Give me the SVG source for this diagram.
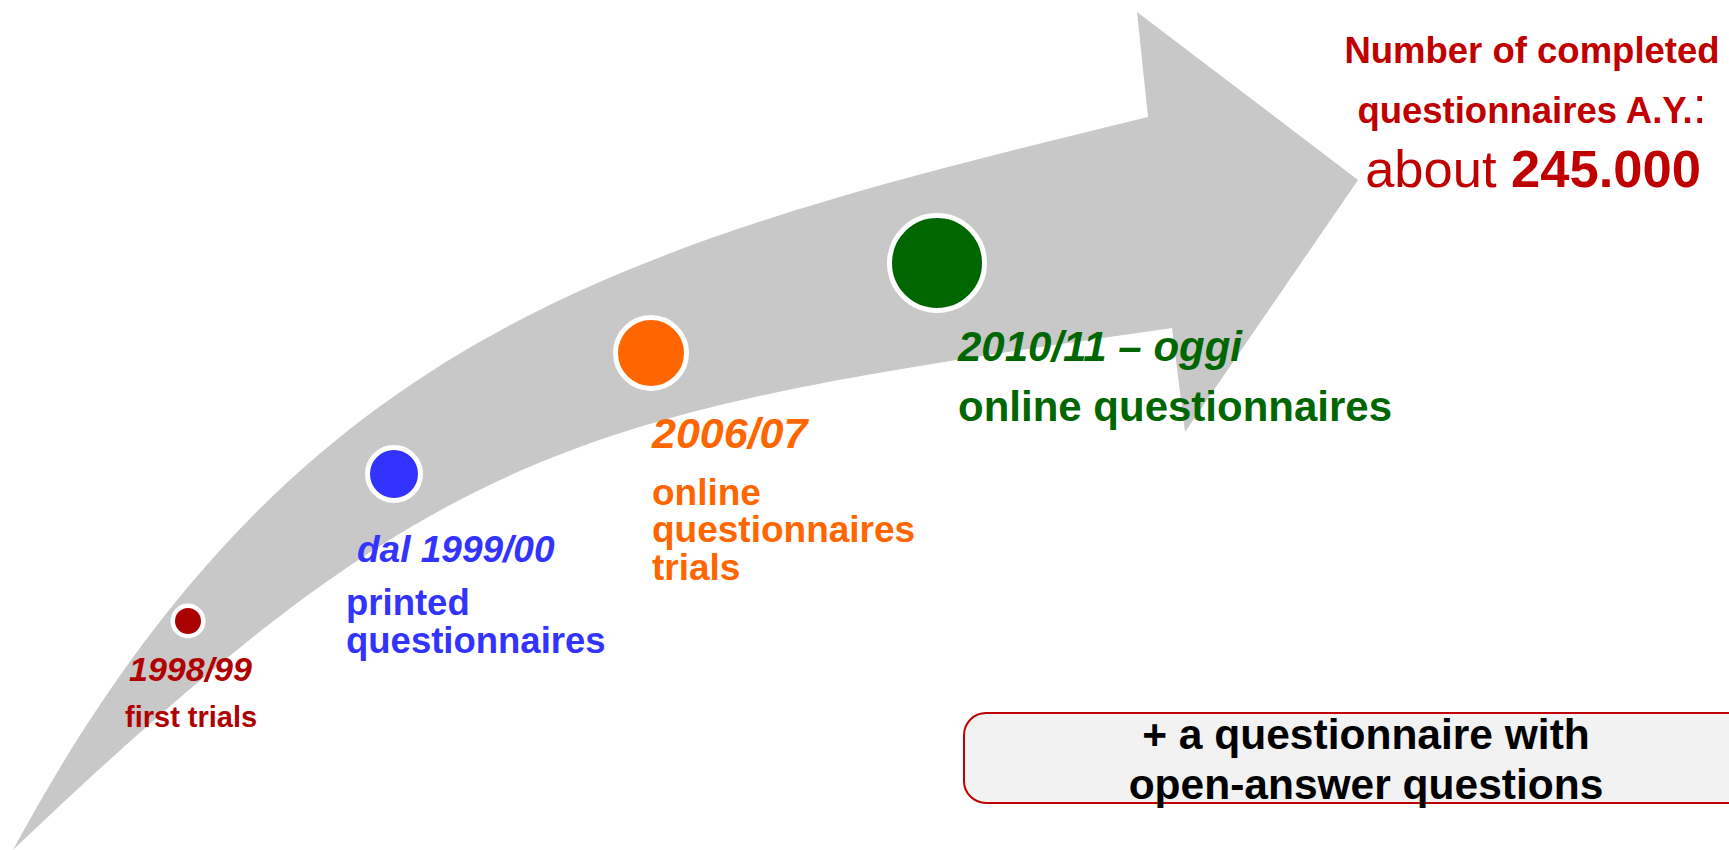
<svg xmlns="http://www.w3.org/2000/svg" width="1729" height="850" viewBox="0 0 1729 850">
<style>
text{font-family:"Liberation Sans",Arial,sans-serif;font-weight:bold}
.it{font-style:italic}
.reg{font-weight:normal}
.dot{stroke:#fff}
</style>
<rect width="1729" height="850" fill="#fff"/>
<g id="arrow">
<path fill="#C8C8C8" d="M13,850 C293,331 623,245 1148,117 L1137,12 L1358,180 L1185,432 L1172,328 C578,413 447,436 13,850 Z"/>
</g>
<g id="node-1998">
<circle class="dot" cx="188" cy="621" r="15.25" fill="#AA0000" stroke-width="4.5"/>
<text class="it" x="129" y="681" font-size="34" fill="#B00000">1998/99</text>
<text x="125" y="727" font-size="29" fill="#B00000">first trials</text>
</g>
<g id="node-1999">
<circle class="dot" cx="394" cy="474" r="26.5" fill="#3333FF" stroke-width="5"/>
<text class="it" x="357" y="562" font-size="37" fill="#3333FF">dal 1999/00</text>
<text x="346" y="615" font-size="36.5" fill="#3333FF">printed</text>
<text x="346" y="653" font-size="36.5" fill="#3333FF">questionnaires</text>
</g>
<g id="node-2006">
<circle class="dot" cx="651" cy="353" r="35.5" fill="#FF6600" stroke-width="5"/>
<text class="it" x="652" y="448" font-size="43" fill="#FF6600">2006/07</text>
<text x="652" y="505" font-size="37" fill="#FF6600">online</text>
<text x="652" y="542" font-size="37" fill="#FF6600">questionnaires</text>
<text x="652" y="580" font-size="37" fill="#FF6600">trials</text>
</g>
<g id="node-2010">
<circle class="dot" cx="937" cy="263" r="47.5" fill="#006600" stroke-width="5"/>
<text class="it" x="958" y="361" font-size="42" fill="#006600">2010/11 – oggi</text>
<text x="958" y="421" font-size="42" fill="#006600">online questionnaires</text>
</g>
<g id="node-total">
<text x="1532" y="63" font-size="36.5" text-anchor="middle" fill="#C00000">Number of completed</text>
<text x="1532" y="123" font-size="36.5" text-anchor="middle" fill="#C00000">questionnaires A.Y.<tspan class="reg" font-size="50">:</tspan></text>
<text x="1533" y="187" font-size="52.5" text-anchor="middle" fill="#C00000"><tspan class="reg">about </tspan>245.000</text>
</g>
<g id="node-open">
<rect x="964" y="713" width="820" height="90" rx="22" fill="#F2F2F2" stroke="#C00000" stroke-width="2"/>
<text x="1366" y="749" font-size="42.5" text-anchor="middle" fill="#000">+ a questionnaire with</text>
<text x="1366" y="799" font-size="42.5" text-anchor="middle" fill="#000">open-answer questions</text>
</g>
<g id="connectors"></g>
</svg>
